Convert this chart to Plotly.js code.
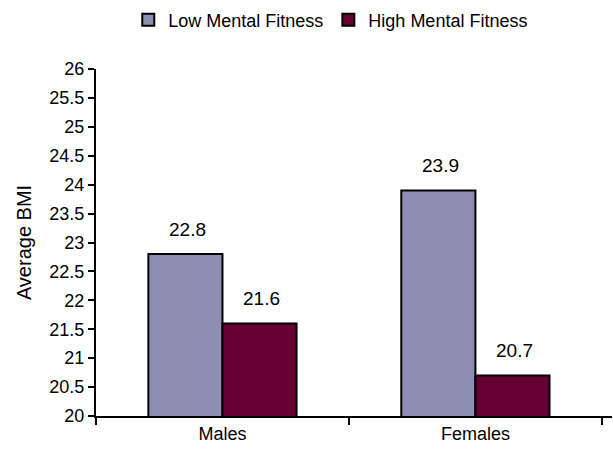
<!DOCTYPE html>
<html>
<head>
<meta charset="utf-8">
<script src="https://cdn.plot.ly/plotly-3.0.1.min.js"></script>
<style>html,body{margin:0;padding:0;background:#fff;}#chart{width:613px;height:453px;}</style>
</head>
<body>
<div id="chart"></div>
<script>
const categories = ["Males", "Females"];
const seriesNames = ["Low Mental Fitness", "High Mental Fitness"];
const lowValues = [22.8, 23.9];
const highValues = [21.6, 20.7];
const yTicks = [20, 20.5, 21, 21.5, 22, 22.5, 23, 23.5, 24, 24.5, 25, 25.5, 26];

const FONT = "'Liberation Sans Narrow', 'Arial Narrow', 'Liberation Sans', Arial, sans-serif";
const colors = ["#8E8EB2", "#660033"];

function barTrace(name, values, color) {
  return {
    type: "bar",
    name: name,
    x: categories,
    y: values,
    marker: {color: color, line: {color: "#000", width: 2}},
    hoverinfo: "none"
  };
}

const data = [
  barTrace(seriesNames[0], lowValues, colors[0]),
  barTrace(seriesNames[1], highValues, colors[1])
];

// value labels above each bar (half a bar width either side of the category centre)
const annotations = [];
[lowValues, highValues].forEach((vals, si) => {
  vals.forEach((v, ci) => {
    annotations.push({
      xref: "x", yref: "y",
      x: categories[ci], y: v,
      text: v.toFixed(1),
      showarrow: false,
      xshift: si === 0 ? -35 : 39,
      yshift: 25,
      yanchor: "middle",
      font: {family: FONT, size: 19, color: "#000"}
    });
  });
});

const layout = {
  width: 613, height: 453,
  margin: {l: 96, r: 1, t: 69, b: 37},
  paper_bgcolor: "#fff", plot_bgcolor: "#fff",
  font: {family: FONT, size: 18, color: "#000"},
  barmode: "group",
  bargap: 0.414,
  bargroupgap: 0,
  showlegend: true,
  legend: {
    orientation: "h",
    x: 0.455, xanchor: "center",
    yref: "container", y: 0.956, yanchor: "middle",
    font: {family: FONT, size: 18, color: "#000"},
    itemwidth: 30,
    traceorder: "normal"
  },
  annotations: annotations,
  xaxis: {
    type: "category",
    range: [-0.5, 1.54],
    showline: true, linecolor: "#000", linewidth: 2,
    ticks: "outside", tickson: "boundaries", ticklen: 7, tickwidth: 2, tickcolor: "#000",
    showgrid: false, zeroline: false,
    tickfont: {family: FONT, size: 18, color: "#000"},
    automargin: false
  },
  yaxis: {
    range: [20, 26],
    tickvals: yTicks,
    ticktext: yTicks.map(v => String(v)),
    showline: true, linecolor: "#000", linewidth: 2,
    ticks: "outside", ticklen: 6, tickwidth: 2, tickcolor: "#000",
    showgrid: false, zeroline: false,
    tickfont: {family: FONT, size: 18, color: "#000"},
    title: {text: "Average BMI", font: {family: FONT, size: 20, color: "#000"}, standoff: 12},
    automargin: false
  }
};

Plotly.newPlot("chart", data, layout, {displayModeBar: false, staticPlot: true});
</script>
</body>
</html>
